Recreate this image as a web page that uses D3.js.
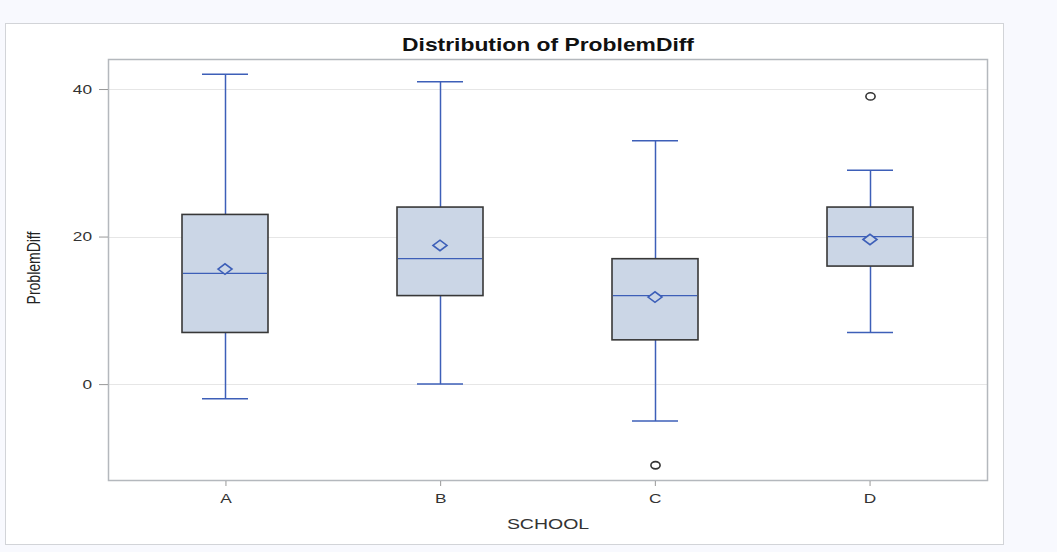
<!DOCTYPE html>
<html>
<head>
<meta charset="utf-8">
<script src="https://cdn.jsdelivr.net/npm/d3@7"></script>
<style>
  body { margin: 0; background: #f8f9fe; }
  svg { display: block; }
</style>
</head>
<body>
<script>
// box stats
const schools = ['A', 'B', 'C', 'D'];
const whiskerLow = [-2, 0, -5, 7];
const q1 = [7, 12, 6, 16];
const median = [15, 17, 12, 20];
const mean = [15.6, 18.8, 11.8, 19.6];
const q3 = [23, 24, 17, 24];
const whiskerHigh = [42, 41, 33, 29];
const outliers = [[], [], [-11], [39]];
const yTicks = [0, 20, 40];

const W = 1057, H = 552;
const plot = { left: 108, top: 59, right: 987, bottom: 480 };
const font = 'Arial, "Liberation Sans", sans-serif';
const stretch = 1.33; // the source picture is drawn wide

const svg = d3.select('body').append('svg')
  .attr('width', W)
  .attr('height', H);

// outer white panel
svg.append('rect')
  .attr('x', 5.5).attr('y', 23.5)
  .attr('width', 998).attr('height', 521)
  .attr('fill', '#fff')
  .attr('stroke', '#d2d4d8');

const x = d3.scalePoint()
  .domain(schools)
  .range([plot.left, plot.right])
  .padding(0.547);

const y = d3.scaleLinear()
  .domain([-13, 44.07])
  .range([plot.bottom, plot.top]);

// grid
svg.append('g')
  .selectAll('line')
  .data(yTicks).enter()
  .append('line')
    .attr('x1', plot.left).attr('x2', plot.right)
    .attr('y1', d => Math.round(y(d)) + 0.5)
    .attr('y2', d => Math.round(y(d)) + 0.5)
    .attr('stroke', '#e6e6e6');

const rows = schools.map((s, i) => ({
  s: s, lo: whiskerLow[i], q1: q1[i], med: median[i], mean: mean[i],
  q3: q3[i], hi: whiskerHigh[i], out: outliers[i]
}));

const boxW = 86, capW = 46;
const blue = '#3d5fb8';

const g = svg.append('g').selectAll('g')
  .data(rows).enter()
  .append('g')
  .attr('transform', d => 'translate(' + Math.round(x(d.s)) + ',0)');

// whiskers
g.append('line')
  .attr('x1', 0.5).attr('x2', 0.5)
  .attr('y1', d => y(d.hi)).attr('y2', d => y(d.q3))
  .attr('stroke', blue).attr('stroke-width', 1.5);
g.append('line')
  .attr('x1', 0.5).attr('x2', 0.5)
  .attr('y1', d => y(d.q1)).attr('y2', d => y(d.lo))
  .attr('stroke', blue).attr('stroke-width', 1.5);
g.append('line')
  .attr('x1', -capW / 2).attr('x2', capW / 2)
  .attr('y1', d => y(d.hi)).attr('y2', d => y(d.hi))
  .attr('stroke', blue).attr('stroke-width', 1.5);
g.append('line')
  .attr('x1', -capW / 2).attr('x2', capW / 2)
  .attr('y1', d => y(d.lo)).attr('y2', d => y(d.lo))
  .attr('stroke', blue).attr('stroke-width', 1.5);

// box
g.append('rect')
  .attr('x', -boxW / 2)
  .attr('y', d => y(d.q3))
  .attr('width', boxW)
  .attr('height', d => y(d.q1) - y(d.q3))
  .attr('fill', '#cbd6e6')
  .attr('stroke', '#383838')
  .attr('stroke-width', 1.6);

// median
g.append('line')
  .attr('x1', -boxW / 2 + 1).attr('x2', boxW / 2 - 1)
  .attr('y1', d => y(d.med)).attr('y2', d => y(d.med))
  .attr('stroke', blue).attr('stroke-width', 1.3);

// mean diamond
g.append('path')
  .attr('d', d => {
    const cy = y(d.mean), r = 7;
    return 'M' + (-r) + ',' + cy + 'L0,' + (cy - r * 0.75) + 'L' + r + ',' + cy + 'L0,' + (cy + r * 0.75) + 'Z';
  })
  .attr('fill', '#cbd6e6')
  .attr('stroke', blue)
  .attr('stroke-width', 1.6);

// outliers
g.selectAll('circle')
  .data(d => d.out).enter()
  .append('ellipse')
    .attr('cx', 0.5)
    .attr('cy', d => y(d))
    .attr('rx', 4.6)
    .attr('ry', 3.6)
    .attr('fill', 'none')
    .attr('stroke', '#333')
    .attr('stroke-width', 1.6);

// frame
svg.append('rect')
  .attr('x', plot.left + 0.5).attr('y', plot.top + 0.5)
  .attr('width', plot.right - plot.left).attr('height', plot.bottom - plot.top)
  .attr('fill', 'none')
  .attr('stroke', '#b4b8bd')
  .attr('stroke-width', 1.5);

// axes
const yAxis = svg.append('g')
  .attr('transform', 'translate(' + plot.left + ',0)')
  .call(d3.axisLeft(y).tickValues(yTicks).tickSize(9).tickPadding(3));
const xAxis = svg.append('g')
  .attr('transform', 'translate(0,' + (plot.bottom + 1) + ')')
  .call(d3.axisBottom(x).tickSize(5).tickPadding(8));

[yAxis, xAxis].forEach(a => {
  a.select('.domain').remove();
  a.selectAll('.tick line').attr('stroke', '#999');
  a.selectAll('.tick text')
    .attr('fill', '#333')
    .attr('transform', 'scale(' + stretch + ',1)')
    .style('font-family', font)
    .style('font-size', '13px');
});

svg.append('text')
  .attr('transform', 'translate(548,51) scale(1.27,1)')
  .attr('text-anchor', 'middle')
  .style('font-family', font)
  .style('font-size', '18px')
  .style('font-weight', 'bold')
  .attr('fill', '#111')
  .text('Distribution of ProblemDiff');

svg.append('text')
  .attr('transform', 'translate(548,529) scale(1.3,1)')
  .attr('text-anchor', 'middle')
  .style('font-family', font)
  .style('font-size', '15px')
  .attr('fill', '#333')
  .text('SCHOOL');

svg.append('text')
  .attr('transform', 'translate(40,268) scale(1.25,1) rotate(-90)')
  .attr('text-anchor', 'middle')
  .style('font-family', font)
  .style('font-size', '14px')
  .attr('fill', '#222')
  .text('ProblemDiff');
</script>
</body>
</html>
